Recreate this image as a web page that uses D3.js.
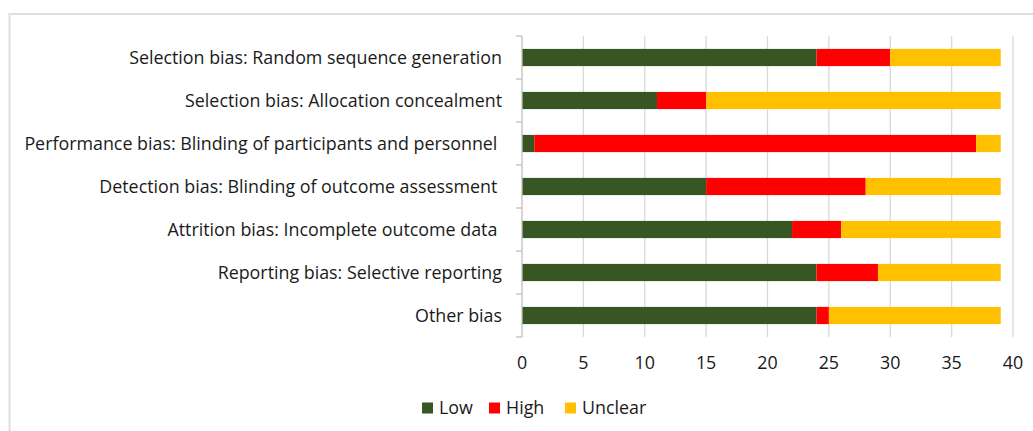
<!DOCTYPE html>
<html>
<head>
<meta charset="utf-8">
<script src="https://cdn.jsdelivr.net/npm/d3@7"></script>
<style>
  html, body { margin: 0; padding: 0; background: #fff; }
  svg text { font-family: "Open Sans", Lato, sans-serif; fill: #1a1a1a; white-space: pre; }
</style>
</head>
<body>
<svg id="chart" width="1033" height="431"></svg>
<script>
const categories = [
  "Selection bias: Random sequence generation",
  "Selection bias: Allocation concealment",
  "Performance bias: Blinding of participants and personnel ",
  "Detection bias: Blinding of outcome assessment ",
  "Attrition bias: Incomplete outcome data ",
  "Reporting bias: Selective reporting",
  "Other bias"
];
const seriesNames = ["Low", "High", "Unclear"];
const lowValues     = [24, 11, 1, 15, 22, 24, 24];
const highValues    = [6, 4, 36, 13, 4, 5, 1];
const unclearValues = [9, 24, 2, 11, 13, 10, 14];
const xTicks = [0, 5, 10, 15, 20, 25, 30, 35, 40];
const colors = ["#375623", "#ff0000", "#ffc000"];

const svg = d3.select("#chart");

// frame
svg.append("rect").attr("x", 9.5).attr("y", 14).attr("width", 1040).attr("height", 440)
  .attr("fill", "none").attr("stroke", "#dedede").attr("stroke-width", 2);

const pLeft = 522, pRight = 1013, pTop = 36, pBottom = 337;
const x = d3.scaleLinear().domain([0, 40]).range([pLeft, pRight]);
const y = d3.scaleBand().domain(categories).range([pTop, pBottom]).paddingInner(0.6).paddingOuter(0.3);

const rows = categories.map((c, i) => ({cat: c, Low: lowValues[i], High: highValues[i], Unclear: unclearValues[i]}));
const stacked = d3.stack().keys(seriesNames)(rows);

// gridlines
svg.append("g").selectAll("line").data(xTicks.filter(t => t > 0)).join("line")
  .attr("x1", d => x(d)).attr("x2", d => x(d))
  .attr("y1", pTop).attr("y2", pBottom)
  .attr("stroke", "#d9d9d9").attr("stroke-width", 1.3);

// bars
svg.append("g").selectAll("g").data(stacked).join("g")
  .attr("fill", (d, i) => colors[i])
  .selectAll("rect").data(d => d).join("rect")
  .attr("x", d => x(d[0]))
  .attr("width", d => x(d[1]) - x(d[0]))
  .attr("y", d => y(d.data.cat))
  .attr("height", y.bandwidth());

// y axis line + ticks at band boundaries
const yAxis = svg.append("g");
yAxis.append("line").attr("x1", pLeft).attr("x2", pLeft).attr("y1", pTop).attr("y2", pBottom)
  .attr("stroke", "#bfbfbf").attr("stroke-width", 1.3);
const step = (pBottom - pTop) / categories.length;
const bounds = d3.range(categories.length + 1).map(i => pTop + i * step);
yAxis.selectAll("line.tk").data(bounds).join("line").attr("class", "tk")
  .attr("x1", pLeft - 6).attr("x2", pLeft).attr("y1", d => d).attr("y2", d => d)
  .attr("stroke", "#bfbfbf").attr("stroke-width", 1.3);

// category labels
const labels = svg.append("g").selectAll("text").data(categories).join("text")
  .attr("x", 502)
  .attr("y", d => y(d) + y.bandwidth() / 2)
  .attr("dy", "0.35em")
  .attr("text-anchor", "end")
  .attr("font-size", 17)
  .text(d => d);
// fit the longest label to the reference width (~478px incl. trailing space)
const longest = labels.filter((d, i) => i === 2).node();
const w = longest.getComputedTextLength();
const fs = 17 * 478 / w;
labels.attr("font-size", fs);

// x tick labels
svg.append("g").selectAll("text").data(xTicks).join("text")
  .attr("x", d => x(d))
  .attr("y", 363)
  .attr("dy", "0.35em")
  .attr("text-anchor", "middle")
  .attr("font-size", fs)
  .text(d => d);

// legend
const legendItems = [
  {name: seriesNames[0], sx: 422, tx: 439},
  {name: seriesNames[1], sx: 489, tx: 506},
  {name: seriesNames[2], sx: 565, tx: 582}
];
const lg = svg.append("g");
legendItems.forEach((it, i) => {
  lg.append("rect").attr("x", it.sx).attr("y", 402.5).attr("width", 11).attr("height", 11).attr("fill", colors[i]);
  lg.append("text").attr("x", it.tx).attr("y", 408).attr("dy", "0.35em").attr("font-size", fs).text(it.name);
});
</script>
</body>
</html>
